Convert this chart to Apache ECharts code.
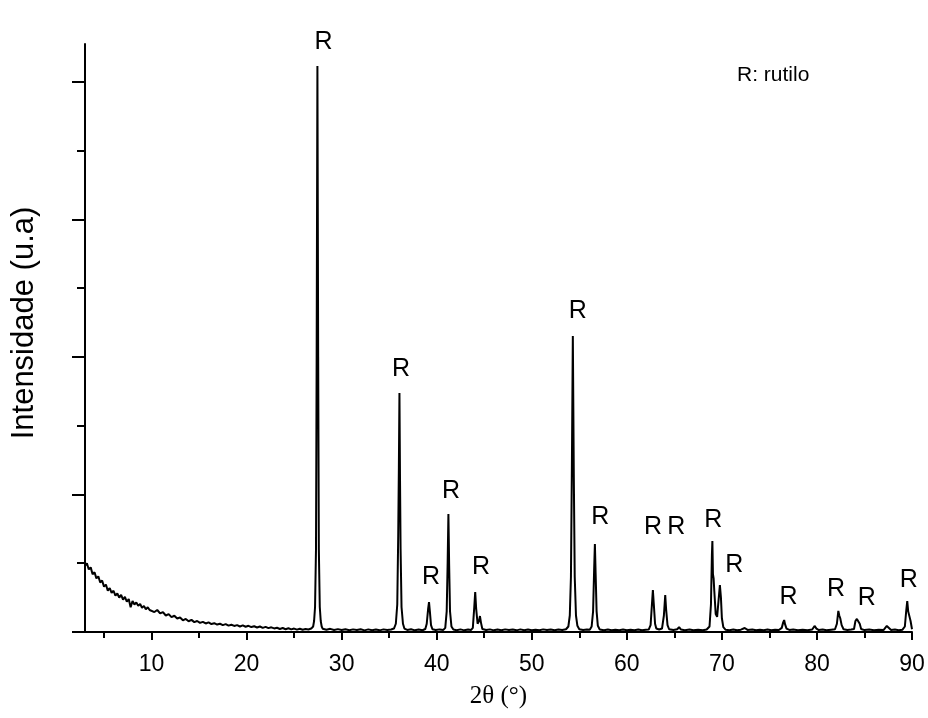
<!DOCTYPE html>
<html>
<head>
<meta charset="utf-8">
<script src="https://cdn.jsdelivr.net/npm/echarts@6/dist/echarts.min.js"></script>
<style>
html,body{margin:0;padding:0;background:#fff;}
#chart{width:928px;height:718px;}
</style>
</head>
<body>
<div id="chart"></div>
<script>
// ---- data ----
var twoTheta = [
3.0,3.2,3.4,3.6,3.8,4.0,4.2,4.4,4.6,4.8,5.0,5.2,5.4,5.6,5.8,6.0,6.2,6.4,6.6,6.8,
7.0,7.2,7.4,7.6,7.8,8.0,8.2,8.4,8.6,8.8,9.0,9.2,9.4,9.6,9.8,10.0,10.3,10.6,10.9,11.2,
11.5,11.8,12.1,12.4,12.7,13.0,13.3,13.6,13.9,14.2,14.5,14.8,15.1,15.4,15.7,16.0,16.3,16.6,16.9,17.2,
17.5,17.8,18.1,18.4,18.7,19.0,19.3,19.6,19.9,20.2,20.5,20.8,21.1,21.4,21.7,22.0,22.3,22.6,22.9,23.2,
23.5,23.8,24.1,24.4,24.7,25.0,25.3,25.6,25.9,26.2,26.5,26.8,27.0,27.1,27.2,27.3,27.37,27.45,27.53,27.6,
27.7,27.8,27.9,28.0,28.4,28.8,29.2,29.6,30.0,30.4,30.8,31.2,31.6,32.0,32.4,32.8,33.2,33.6,34.0,34.4,
34.8,35.2,35.5,35.7,35.85,35.95,36.02,36.08,36.14,36.2,36.3,36.45,36.6,36.9,37.3,37.7,38.1,38.5,38.8,38.95,
39.1,39.19,39.28,39.4,39.55,39.9,40.3,40.7,40.9,41.05,41.15,41.23,41.31,41.4,41.55,41.75,42.1,42.5,42.9,43.3,
43.6,43.8,43.95,44.05,44.15,44.3,44.45,44.55,44.65,44.8,45.2,45.6,46.0,46.4,46.8,47.2,47.6,48.0,48.4,48.8,
49.2,49.6,50.0,50.4,50.8,51.2,51.6,52.0,52.4,52.8,53.2,53.6,53.85,54.0,54.12,54.22,54.32,54.42,54.52,54.65,
54.8,55.0,55.4,55.8,56.1,56.3,56.45,56.56,56.64,56.72,56.82,56.95,57.15,57.6,58.0,58.4,58.8,59.2,59.6,60.0,
60.4,60.8,61.2,61.6,62.0,62.3,62.5,62.64,62.74,62.84,62.97,63.1,63.4,63.7,63.9,64.04,64.14,64.28,64.45,64.9,
65.3,65.5,65.7,66.1,66.6,67.0,67.5,68.0,68.4,68.7,68.85,68.95,69.0,69.06,69.13,69.2,69.35,69.5,69.65,69.79,
69.9,70.0,70.15,70.4,70.8,71.2,71.6,72.0,72.4,72.7,73.2,73.6,74.0,74.4,74.8,75.2,75.6,76.0,76.3,76.45,
76.55,76.65,76.8,77.1,77.5,78.0,78.5,79.0,79.5,79.75,79.95,80.2,80.6,81.0,81.5,81.9,82.1,82.25,82.35,82.45,
82.6,82.8,83.2,83.6,83.9,84.05,84.2,84.35,84.5,84.65,85.0,85.5,86.0,86.5,87.0,87.35,87.55,87.8,88.2,88.6,
89.0,89.25,89.4,89.5,89.6,89.72,89.85,90.0
];
var intensity = [
480,500,455,470,420,435,390,405,360,375,330,345,300,320,285,300,265,280,250,270,
235,255,220,240,180,225,200,215,190,205,175,190,165,180,160,170,145,160,135,145,
120,130,108,118,98,105,85,95,78,88,72,80,66,74,62,70,58,64,54,60,
50,57,46,53,44,50,40,48,38,45,36,42,33,40,30,37,28,34,26,31,
22,29,20,27,19,25,17,24,16,22,18,25,40,80,180,600,2000,4116,2000,600,
180,80,40,24,16,23,15,21,14,20,13,19,14,20,12,19,13,18,12,19,
14,18,25,60,200,700,1200,1738,1100,600,180,60,25,15,20,12,18,13,22,60,
170,218,150,50,20,14,19,15,30,150,500,858,480,150,40,18,13,19,12,18,
14,30,180,291,170,60,80,116,70,22,14,19,12,18,13,19,14,18,12,19,
13,18,12,17,13,19,14,18,13,18,14,20,40,120,400,1200,2153,1150,400,120,
45,20,15,19,16,40,150,450,640,420,150,45,18,13,18,12,17,13,18,12,
17,13,18,12,17,18,50,200,305,200,60,25,18,25,120,269,160,50,20,14,
20,36,18,13,18,12,17,13,18,40,200,560,662,420,390,300,130,110,230,342,
250,100,35,16,13,18,12,17,29,15,18,12,17,13,18,12,17,14,30,70,
87,55,25,15,18,12,17,13,18,44,25,14,18,12,17,20,60,153,120,100,
50,20,15,18,22,80,95,85,60,22,14,18,13,17,14,44,30,15,18,13,
17,40,160,225,150,145,80,20
];
// peak marker labels ("R") anchor points, in data units
var peakLabelX = [28.1, 36.25, 39.4, 41.5, 44.65, 54.85, 57.2, 62.75, 65.2, 69.1, 71.3, 77.0, 82.0, 85.25, 89.65];
var peakLabelY = [4290, 1913, 400, 1025, 473, 2335, 836, 764, 764, 815, 487, 255, 313, 247, 378];
var xMajorTicks = [10, 20, 30, 40, 50, 60, 70, 80, 90];
var xMinorTicks = [5, 15, 25, 35, 45, 55, 65, 75, 85];
var yMajorTicks = [0, 1000, 2000, 3000, 4000];
var yMinorTicks = [500, 1500, 2500, 3500];

var pattern = twoTheta.map(function (x, i) { return [x, intensity[i]]; });
var labels = peakLabelX.map(function (x, i) { return [x, peakLabelY[i]]; });

var chart = echarts.init(document.getElementById('chart'), null, {renderer: 'canvas'});
var axisCol = '#000';
chart.setOption({
  animation: false,
  backgroundColor: '#fff',
  grid: {left: 85, right: 16, top: 44, bottom: 86, containLabel: false},
  title: {
    text: 'R: rutilo', left: 732, top: 60,
    textStyle: {fontFamily: 'Liberation Sans', fontSize: 21, fontWeight: 'normal', color: '#000'}
  },
  xAxis: [{
    type: 'value', min: 3, max: 90, position: 'bottom',
    axisLine: {show: true, onZero: false, lineStyle: {color: axisCol, width: 2}},
    axisTick: {show: true, inside: false, length: 8, customValues: xMajorTicks, lineStyle: {color: axisCol, width: 2}},
    axisLabel: {show: true, customValues: xMajorTicks, margin: 21, color: '#000', fontSize: 23, fontFamily: 'Liberation Sans'},
    splitLine: {show: false},
    name: '2\u03b8 (\u00b0)', nameLocation: 'middle', nameGap: 52,
    nameTextStyle: {fontFamily: 'Liberation Serif', fontSize: 25, color: '#000'}
  }, {
    type: 'value', min: 3, max: 90, position: 'bottom',
    axisLine: {show: false},
    axisTick: {show: true, inside: false, length: 6, customValues: xMinorTicks, lineStyle: {color: axisCol, width: 2}},
    axisLabel: {show: false},
    splitLine: {show: false}
  }],
  yAxis: [{
    type: 'value', min: 0, max: 4276, position: 'left',
    axisLine: {show: true, onZero: false, lineStyle: {color: axisCol, width: 2}},
    axisTick: {show: true, inside: false, length: 13, customValues: yMajorTicks, lineStyle: {color: axisCol, width: 2}},
    axisLabel: {show: false},
    splitLine: {show: false},
    name: 'Intensidade (u.a)', nameLocation: 'middle', nameGap: 45, nameRotate: 90,
    nameTextStyle: {fontFamily: 'Liberation Sans', fontSize: 31, color: '#000', padding: [0, 0, 0, 30]}
  }, {
    type: 'value', min: 0, max: 4276, position: 'left', offset: 0,
    axisLine: {show: false},
    axisTick: {show: true, inside: false, length: 8, customValues: yMinorTicks, lineStyle: {color: axisCol, width: 2}},
    axisLabel: {show: false},
    splitLine: {show: false}
  }],
  series: [{
    type: 'line', xAxisIndex: 0, yAxisIndex: 0,
    data: pattern, showSymbol: false, symbol: 'none',
    lineStyle: {color: '#000', width: 2}, z: 3
  }, {
    type: 'scatter', xAxisIndex: 0, yAxisIndex: 0,
    data: labels, symbol: 'circle', symbolSize: 1, clip: false, silent: true,
    itemStyle: {color: 'rgba(0,0,0,0)'},
    label: {show: true, position: 'inside', formatter: 'R', color: '#000', opacity: 1, textBorderWidth: 0, fontSize: 25, fontFamily: 'Liberation Sans'},
    emphasis: {disabled: true},
    z: 4
  }]
});
</script>
</body>
</html>
